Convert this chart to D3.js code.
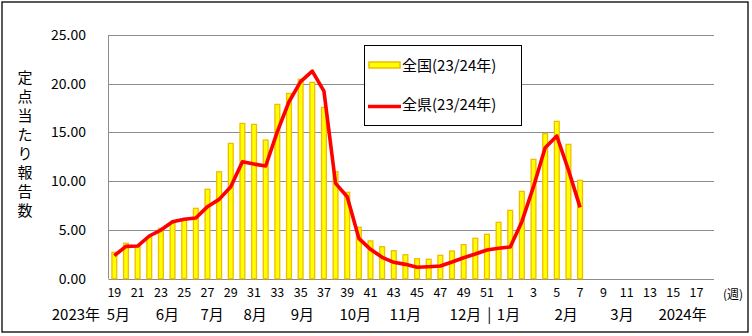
<!DOCTYPE html>
<html><head><meta charset="utf-8">
<script src="https://cdn.jsdelivr.net/npm/d3@7"></script>
<style>
html,body{margin:0;padding:0;background:#fff;}
svg{display:block;font-family:"Noto Sans CJK JP","Noto Sans",sans-serif;}
</style></head>
<body><svg id="c" width="752" height="336"></svg>
<script>
// Weeks: 2023 wk19..52, 2024 wk1..18
const weeks2023 = d3.range(19, 53);
const weeks2024 = d3.range(1, 19);
const weekKeys = weeks2023.map(w => "2023-" + w).concat(weeks2024.map(w => "2024-" + w));
const weekNums = weeks2023.concat(weeks2024);

// 全国(23/24年) – national per-sentinel reports
const nationalValues = [2.71, 3.63, 3.28, 4.25, 5.17, 5.68, 6.02, 7.22, 9.17, 10.97,
  13.88, 15.93, 15.83, 14.22, 17.88, 19.00, 20.45, 20.14, 17.57, 10.97,
  8.86, 5.27, 3.87, 3.28, 2.87, 2.46, 2.05, 1.99, 2.40, 2.84,
  3.49, 4.14, 4.55, 5.78, 7.01, 8.96, 12.24, 14.87, 16.14, 13.78, 10.09];
// 全県(23/24年) – prefecture per-sentinel reports
const prefValues = [2.36, 3.32, 3.35, 4.38, 4.99, 5.85, 6.09, 6.23, 7.39, 8.14,
  9.44, 12.00, 11.76, 11.56, 15.08, 18.15, 20.21, 21.30, 19.25, 9.78,
  8.41, 4.14, 3.01, 2.19, 1.68, 1.47, 1.17, 1.23, 1.30, 1.71,
  2.15, 2.53, 2.94, 3.12, 3.25, 5.85, 9.44, 13.44, 14.64, 11.15, 7.32];

const seriesNames = ["全国(23/24年)", "全県(23/24年)"];
const yTicks = [0, 5, 10, 15, 20, 25];
const yTitle = "定点当たり報告数";
const monthLabels = ["2023年", "5月", "6月", "7月", "8月", "9月", "10月", "11月", "12月", "|", "1月", "2月", "3月", "2024年"];
const monthAt = [-3.3, 0.35, 4.55, 8.4, 12.1, 16.15, 20.7, 25.0, 30.15, 32.2, 33.85, 38.8, 43.6, 48.8];
const unitLabel = "(週)";

const svg = d3.select("#c");
const L = 108.5, R = 714, T = 35, B = 278.7;

const x = d3.scaleBand().domain(weekKeys).range([L, R]).paddingInner(0.5).paddingOuter(0.25);
const xi = d3.scaleLinear().domain([0, 1]).range([x(weekKeys[0]) + x.bandwidth() / 2, x(weekKeys[1]) + x.bandwidth() / 2]);
const y = d3.scaleLinear().domain([0, 25]).range([B, T]);

// outer border
svg.append("rect").attr("x", 2).attr("y", 2).attr("width", 746).attr("height", 330)
  .attr("fill", "none").attr("stroke", "#000").attr("stroke-width", 1.3);

// gridlines
svg.append("g").selectAll("line").data(yTicks.filter(t => t > 0)).join("line")
  .attr("x1", L).attr("x2", R).attr("y1", d => Math.round(y(d)) + 0.5).attr("y2", d => Math.round(y(d)) + 0.5)
  .attr("stroke", "#8c8c8c").attr("stroke-width", 1);
// plot left/bottom
svg.append("line").attr("x1", L).attr("x2", L).attr("y1", y(25)).attr("y2", y(0)).attr("stroke", "#8c8c8c");
svg.append("line").attr("x1", L).attr("x2", R).attr("y1", Math.round(y(0)) + 0.5).attr("y2", Math.round(y(0)) + 0.5).attr("stroke", "#8c8c8c");

// y axis labels
const yAxis = d3.axisLeft(y).tickValues(yTicks).tickFormat(d3.format(".2f")).tickSize(0).tickPadding(0);
const gy = svg.append("g").attr("transform", "translate(86,0)").call(yAxis);
gy.select(".domain").remove();
gy.selectAll("text").attr("font-size", 14).attr("fill", "#000").attr("font-family", "'Noto Sans CJK JP'");

// y title (vertical)
svg.append("g").selectAll("text").data(Array.from(yTitle)).join("text")
  .attr("x", 25).attr("y", (d, i) => 83 + i * 19).attr("text-anchor", "middle")
  .attr("font-size", 15).attr("fill", "#000").text(d => d);

// bars
svg.append("g").selectAll("rect").data(nationalValues).join("rect")
  .attr("x", (d, i) => x(weekKeys[i]) + 0.5).attr("width", x.bandwidth() - 1)
  .attr("y", d => y(d)).attr("height", d => y(0) - y(d))
  .attr("fill", "#ffff00").attr("stroke", "#f0bc00").attr("stroke-width", 1.3);

// line
const line = d3.line().x((d, i) => x(weekKeys[i]) + x.bandwidth() / 2).y(d => y(d));
svg.append("path").datum(prefValues).attr("d", line)
  .attr("fill", "none").attr("stroke", "#ff0000").attr("stroke-width", 3.6).attr("stroke-linejoin", "round");

// x axis week labels
const xAxis = d3.axisBottom(x).tickValues(weekKeys.filter((k, i) => weekNums[i] % 2 === 1))
  .tickFormat(k => k.split("-")[1]).tickSize(0).tickPadding(0);
const gx = svg.append("g").attr("transform", "translate(0,288)").call(xAxis);
gx.select(".domain").remove();
gx.selectAll("text").attr("font-size", 12.5).attr("fill", "#000").attr("font-family", "'Noto Sans CJK JP'");

// month row
svg.append("g").selectAll("text").data(monthLabels).join("text")
  .attr("x", (d, i) => xi(monthAt[i])).attr("y", 320).attr("text-anchor", "middle")
  .attr("font-size", 15).attr("fill", "#000").text(d => d);

svg.append("text").attr("x", 733).attr("y", 299).attr("text-anchor", "middle")
  .attr("font-size", 12).attr("fill", "#000").text(unitLabel);

// legend
const lg = svg.append("g");
lg.append("rect").attr("x", 364.5).attr("y", 45.5).attr("width", 157).attr("height", 80)
  .attr("fill", "#fff").attr("stroke", "#000").attr("stroke-width", 1);
lg.append("rect").attr("x", 369).attr("y", 62).attr("width", 31).attr("height", 6)
  .attr("fill", "#ffff00").attr("stroke", "#f0bc00").attr("stroke-width", 1.5);
lg.append("line").attr("x1", 368).attr("x2", 401).attr("y1", 106.5).attr("y2", 106.5)
  .attr("stroke", "#ff0000").attr("stroke-width", 3.6);
lg.append("text").attr("x", 402).attr("y", 71).attr("font-size", 15).attr("fill", "#000").text(seriesNames[0]);
lg.append("text").attr("x", 402).attr("y", 110).attr("font-size", 15).attr("fill", "#000").text(seriesNames[1]);
</script></body></html>
